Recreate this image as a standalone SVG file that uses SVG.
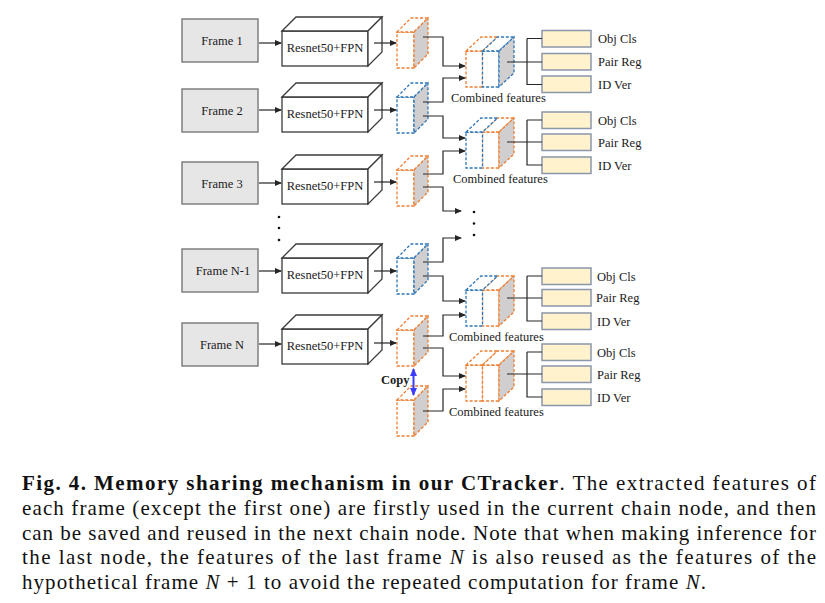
<svg xmlns="http://www.w3.org/2000/svg" width="825" height="603" viewBox="0 0 825 603">
<style>
.bg{fill:#fff}
.frame rect{fill:#e7e6e6;stroke:#7f7f7f;stroke-width:1.5}
.lbl{font-family:"Liberation Serif",Tinos,"Times New Roman",Times,serif;font-size:12.5px;fill:#1a1a1a}
.rs{fill:#fff;stroke:#3a3a3a;stroke-width:1.3}
.o{stroke:#ed7d31;stroke-width:1.3;stroke-dasharray:3 1.8}
.b{stroke:#2e75b6;stroke-width:1.3;stroke-dasharray:3 1.8}
.w{fill:#fff}
.g{fill:#d0cece}
.conn path{fill:none;stroke:#262626;stroke-width:1.2}
.head rect{fill:#fff2cc;stroke:#8a96aa;stroke-width:1.5}
.cap{font-family:"Liberation Serif",Tinos,"Times New Roman",Times,serif;font-size:21px;fill:#111}
</style>
<defs>
<marker id="ah" markerWidth="7" markerHeight="6" refX="6" refY="3" orient="auto" markerUnits="userSpaceOnUse">
<path d="M0,0 L7,3 L0,6 Z" fill="#262626"/>
</marker>
<marker id="bh" markerWidth="8" markerHeight="7" refX="7" refY="3.5" orient="auto-start-reverse" markerUnits="userSpaceOnUse">
<path d="M0,0 L8,3.5 L0,7 Z" fill="#3d3dff"/>
</marker>
<g id="cubeO">
<rect class="o w" x="0" y="0" width="17" height="36"/>
<polygon class="o w" points="0,0 14,-14 31,-14 17,0"/>
<polygon class="o g" points="17,0 31,-14 31,22 17,36"/>
</g>
<g id="cubeB">
<rect class="b w" x="0" y="0" width="17" height="36"/>
<polygon class="b w" points="0,0 14,-14 31,-14 17,0"/>
<polygon class="b g" points="17,0 31,-14 31,22 17,36"/>
</g>
<g id="res">
<rect class="rs" x="0" y="0" width="86" height="35"/>
<polygon class="rs" points="0,0 14,-14 100,-14 86,0"/>
<polygon class="rs" points="86,0 100,-14 100,21 86,35"/>
</g>
</defs>
<rect class="bg" x="0" y="0" width="825" height="603"/>

<g id="frame1" class="frame"><rect x="182" y="19" width="76" height="43"/><text class="lbl" x="222" y="45" text-anchor="middle">Frame 1</text></g>
<g id="frame2" class="frame"><rect x="182" y="89" width="76" height="43"/><text class="lbl" x="222" y="115" text-anchor="middle">Frame 2</text></g>
<g id="frame3" class="frame"><rect x="182" y="162" width="76" height="42"/><text class="lbl" x="222" y="188" text-anchor="middle">Frame 3</text></g>
<g id="frameN1" class="frame"><rect x="182" y="249" width="76" height="43"/><text class="lbl" x="223" y="275" text-anchor="middle">Frame N-1</text></g>
<g id="frameN" class="frame"><rect x="182" y="323" width="76" height="43"/><text class="lbl" x="222" y="349" text-anchor="middle">Frame N</text></g>

<g id="dotsLeft" fill="#111"><circle cx="279" cy="217" r="1.3"/><circle cx="279" cy="228" r="1.3"/><circle cx="279" cy="240" r="1.3"/></g>

<g id="res1"><use href="#res" x="282" y="31"/><text class="lbl" x="325" y="52" text-anchor="middle">Resnet50+FPN</text></g>
<g id="res2"><use href="#res" x="282" y="97"/><text class="lbl" x="325" y="118" text-anchor="middle">Resnet50+FPN</text></g>
<g id="res3"><use href="#res" x="282" y="169"/><text class="lbl" x="325" y="190" text-anchor="middle">Resnet50+FPN</text></g>
<g id="resN1"><use href="#res" x="282" y="258"/><text class="lbl" x="325" y="279" text-anchor="middle">Resnet50+FPN</text></g>
<g id="resN"><use href="#res" x="282" y="329"/><text class="lbl" x="325" y="350" text-anchor="middle">Resnet50+FPN</text></g>

<g id="feat1"><use href="#cubeO" x="397" y="32"/></g>
<g id="feat2"><use href="#cubeB" x="397" y="97"/></g>
<g id="feat3"><use href="#cubeO" x="397" y="170"/></g>
<g id="featN1"><use href="#cubeB" x="397" y="258"/></g>
<g id="featN"><use href="#cubeO" x="397" y="330"/></g>
<g id="featCopy"><use href="#cubeO" x="397" y="400"/></g>

<g id="comb1">
<rect class="o w" x="466" y="51" width="16.5" height="36"/>
<polygon class="o w" points="466,51 481,37 497.5,37 482.5,51"/>
<rect class="b w" x="482.5" y="51" width="16.5" height="36"/>
<polygon class="b w" points="482.5,51 497.5,37 514,37 499,51"/>
<polygon class="b g" points="499,51 514,37 514,73 499,87"/>
<text class="lbl" x="451" y="102">Combined features</text>
</g>
<g id="comb2">
<rect class="o w" x="482.5" y="132" width="16.5" height="36"/>
<polygon class="o w" points="482.5,132 497.5,118 514,118 499,132"/>
<polygon class="o g" points="499,132 514,118 514,154 499,168"/>
<rect class="b w" x="466" y="132" width="16.5" height="36"/>
<polygon class="b w" points="466,132 481,118 497.5,118 482.5,132"/>
<text class="lbl" x="453" y="183">Combined features</text>
</g>
<g id="comb3">
<rect class="o w" x="482.5" y="290" width="16.5" height="36"/>
<polygon class="o w" points="482.5,290 497.5,276 514,276 499,290"/>
<polygon class="o g" points="499,290 514,276 514,312 499,326"/>
<rect class="b w" x="466" y="290" width="16.5" height="36"/>
<polygon class="b w" points="466,290 481,276 497.5,276 482.5,290"/>
<text class="lbl" x="449" y="341">Combined features</text>
</g>
<g id="comb4">
<rect class="o w" x="466" y="365" width="16.5" height="36"/>
<polygon class="o w" points="466,365 481,351 497.5,351 482.5,365"/>
<rect class="o w" x="482.5" y="365" width="16.5" height="36"/>
<polygon class="o w" points="482.5,365 497.5,351 514,351 499,365"/>
<polygon class="o g" points="499,365 514,351 514,387 499,401"/>
<text class="lbl" x="449" y="416">Combined features</text>
</g>

<g id="dotsRight" fill="#111"><circle cx="474" cy="212" r="1.3"/><circle cx="474" cy="223.5" r="1.3"/><circle cx="474" cy="235" r="1.3"/></g>

<g id="heads1" class="head">
<rect x="542" y="30.5" width="49" height="16.5"/><rect x="542" y="53.5" width="49" height="16.5"/><rect x="542" y="76" width="49" height="16.5"/>
<text class="lbl" x="598" y="43">Obj Cls</text><text class="lbl" x="598" y="66">Pair Reg</text><text class="lbl" x="598" y="89">ID Ver</text>
</g>
<g id="heads2" class="head">
<rect x="542" y="112" width="49" height="16.5"/><rect x="542" y="134" width="49" height="16.5"/><rect x="542" y="157" width="49" height="16.5"/>
<text class="lbl" x="598" y="124.5">Obj Cls</text><text class="lbl" x="598" y="146.5">Pair Reg</text><text class="lbl" x="598" y="169.5">ID Ver</text>
</g>
<g id="heads3" class="head">
<rect x="542" y="268" width="49" height="16.5"/><rect x="542" y="289.5" width="49" height="16.5"/><rect x="542" y="313" width="49" height="16.5"/>
<text class="lbl" x="597" y="280.5">Obj Cls</text><text class="lbl" x="596" y="302">Pair Reg</text><text class="lbl" x="597" y="325.5">ID Ver</text>
</g>
<g id="heads4" class="head">
<rect x="542" y="344" width="49" height="16.5"/><rect x="542" y="366" width="49" height="16.5"/><rect x="542" y="389" width="49" height="16.5"/>
<text class="lbl" x="597" y="356.5">Obj Cls</text><text class="lbl" x="597" y="378.5">Pair Reg</text><text class="lbl" x="597" y="401.5">ID Ver</text>
</g>

<g id="connectors" class="conn">
<path d="M259,43 H281" marker-end="url(#ah)"/>
<path d="M259,110 H281" marker-end="url(#ah)"/>
<path d="M259,183 H281" marker-end="url(#ah)"/>
<path d="M259,271 H281" marker-end="url(#ah)"/>
<path d="M259,344 H281" marker-end="url(#ah)"/>
<path d="M374,43 H396" marker-end="url(#ah)"/>
<path d="M374,110 H396" marker-end="url(#ah)"/>
<path d="M374,182 H396" marker-end="url(#ah)"/>
<path d="M374,271 H396" marker-end="url(#ah)"/>
<path d="M374,343 H396" marker-end="url(#ah)"/>
<path d="M423,37 H443 V66 H465" marker-end="url(#ah)"/>
<path d="M423,102 H443 V78 H465" marker-end="url(#ah)"/>
<path d="M423,116 H443 V138 H465" marker-end="url(#ah)"/>
<path d="M423,174 H443 V151 H465" marker-end="url(#ah)"/>
<path d="M423,187 H443 V211 H461" marker-end="url(#ah)"/>
<path d="M423,262 H443 V238 H461" marker-end="url(#ah)"/>
<path d="M423,276 H443 V301 H465" marker-end="url(#ah)"/>
<path d="M423,336 H443 V315 H465" marker-end="url(#ah)"/>
<path d="M423,348 H443 V376 H465" marker-end="url(#ah)"/>
<path d="M423,411 H443 V389 H465" marker-end="url(#ah)"/>
<path d="M507,62 H542 M527,38.5 V84.5 H542 M527,38.5 H542"/>
<path d="M507,142 H542 M527,120 V165 H542 M527,120 H542"/>
<path d="M507,298 H542 M527,276 V321 H542 M527,276 H542"/>
<path d="M507,374 H542 M527,352 V397 H542 M527,352 H542"/>
<path d="M413.5,369 V395" style="stroke:#3d3dff;stroke-width:2" marker-start="url(#bh)" marker-end="url(#bh)"/>
</g>
<text id="copyLabel" class="lbl" x="381" y="384" font-weight="bold">Copy</text>

<g id="caption" class="cap">
<text x="22" y="490" textLength="794" lengthAdjust="spacing"><tspan font-weight="bold">Fig. 4. Memory sharing mechanism in our CTracker</tspan>. The extracted features of</text>
<text x="22" y="515" textLength="794" lengthAdjust="spacing">each frame (except the first one) are firstly used in the current chain node, and then</text>
<text x="22" y="539.5" textLength="794" lengthAdjust="spacing">can be saved and reused in the next chain node. Note that when making inference for</text>
<text x="22" y="564" textLength="794" lengthAdjust="spacing">the last node, the features of the last frame <tspan font-style="italic">N</tspan> is also reused as the features of the</text>
<text x="22" y="589" textLength="684" lengthAdjust="spacing">hypothetical frame <tspan font-style="italic">N</tspan> + 1 to avoid the repeated computation for frame <tspan font-style="italic">N</tspan>.</text>
</g>
</svg>
